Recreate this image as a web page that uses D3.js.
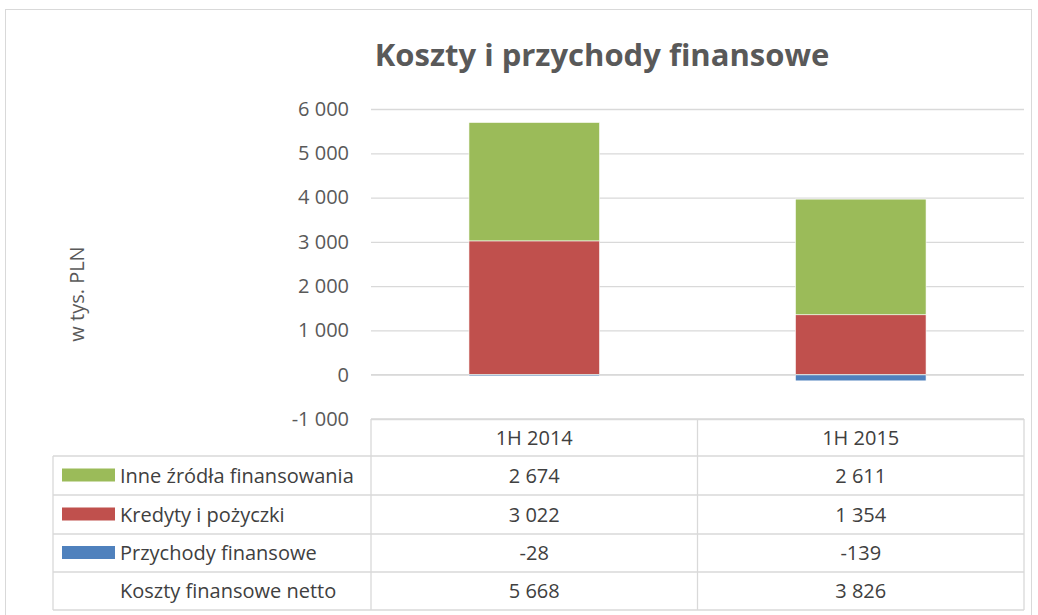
<!DOCTYPE html>
<html>
<head>
<meta charset="utf-8">
<script src="https://cdn.jsdelivr.net/npm/d3@7"></script>
<style>
  body { margin: 0; background: #fff; }
  text { font-family: "Open Sans", sans-serif; }
</style>
</head>
<body>
<div id="chart"></div>
<script>
let width = 1038,
    height = 615,
    margin = ({ top: 109, right: 14, bottom: 196, left: 371 });

// data
const categories = ["1H 2014", "1H 2015"];
const seriesNames = ["Inne źródła finansowania", "Kredyty i pożyczki", "Przychody finansowe"];
const inne = [2674, 2611];
const kredyty = [3022, 1354];
const przychody = [-28, -139];
const netto = [5668, 3826];
const netLabel = "Koszty finansowe netto";
const yTicks = [-1000, 0, 1000, 2000, 3000, 4000, 5000, 6000];

const colors = ["#9BBB59", "#C0504D", "#4F81BD"];

const locale = d3.formatLocale({ decimal: ",", thousands: " ", grouping: [3], currency: ["", ""], minus: "-" });
const fmt = locale.format(",d");

const svg = d3.select("#chart")
  .append("svg")
  .attr("width", width)
  .attr("height", height);

// outer frame
svg.append("rect")
  .attr("x", 5.5).attr("y", 9.5)
  .attr("width", 1026).attr("height", 620)
  .attr("fill", "none")
  .attr("stroke", "#d9d9d9");

svg.append("text")
  .attr("x", 602)
  .attr("y", 66)
  .attr("text-anchor", "middle")
  .attr("font-size", 31)
  .attr("font-weight", "bold")
  .attr("fill", "#595959")
  .text("Koszty i przychody finansowe");

let x = d3.scaleBand()
  .domain(categories)
  .range([margin.left, width - margin.right])
  .paddingInner(0.6)
  .paddingOuter(0.3);

let y = d3.scaleLinear()
  .domain([-1000, 6000])
  .range([height - margin.bottom, margin.top]);

// gridlines
svg.append("g")
  .attr("transform", `translate(${margin.left},0)`)
  .attr("class", "y-axis")
  .call(d3.axisLeft(y).tickValues(yTicks).tickFormat(fmt)
    .tickSize(-(width - margin.left - margin.right)).tickPadding(22))
  .call(g => g.select(".domain").remove())
  .call(g => g.selectAll(".tick line").attr("stroke", "#d9d9d9").attr("stroke-width", 1.3))
  .call(g => g.selectAll(".tick text").attr("fill", "#595959").attr("font-size", 20));

// stacked bars
const rows = categories.map((c, i) => ({ cat: c, s0: inne[i], s1: kredyty[i], s2: przychody[i] }));
const stack = d3.stack()
  .keys(["s1", "s0", "s2"])
  .offset(d3.stackOffsetDiverging);
const layers = stack(rows);
const colorByKey = { s0: colors[0], s1: colors[1], s2: colors[2] };

svg.append("g")
  .selectAll("g")
  .data(layers)
  .join("g")
  .attr("fill", d => colorByKey[d.key])
  .selectAll("rect")
  .data(d => d)
  .join("rect")
  .attr("x", d => x(d.data.cat))
  .attr("width", x.bandwidth())
  .attr("y", d => y(d[1]))
  .attr("height", d => y(d[0]) - y(d[1]))
  .attr("stroke", "#fff")
  .attr("stroke-width", 0.6);

// zero line on top
svg.append("line")
  .attr("x1", margin.left).attr("x2", width - margin.right)
  .attr("y1", y(0)).attr("y2", y(0))
  .attr("stroke", "#d9d9d9").attr("stroke-width", 1.3);

// y label
svg.append("text")
  .attr("transform", "translate(77,294) rotate(-90)")
  .attr("text-anchor", "middle")
  .attr("dy", "0.35em")
  .attr("font-size", 20)
  .attr("fill", "#595959")
  .text("w tys. PLN");

// data table
const tTop = y(-1000);
const rowY = [tTop, 456, 495, 534, 572, 610];
const tLeft = 53, tRight = width - margin.right;
const gridC = "#d9d9d9";
const tbl = svg.append("g").attr("class", "table");

// horizontal lines
rowY.forEach((ry, i) => {
  tbl.append("line")
    .attr("x1", i === 0 ? margin.left : tLeft).attr("x2", tRight)
    .attr("y1", ry).attr("y2", ry)
    .attr("stroke", gridC).attr("stroke-width", 1.3);
});
// vertical lines
const colEdges = [margin.left, ...categories.slice(1).map(c => x(c) - x.step() * x.paddingInner() / 2), tRight];
tbl.append("line").attr("x1", tLeft).attr("x2", tLeft).attr("y1", rowY[1]).attr("y2", rowY[5])
  .attr("stroke", gridC).attr("stroke-width", 1.3);
colEdges.forEach(cx => {
  tbl.append("line").attr("x1", cx).attr("x2", cx).attr("y1", tTop).attr("y2", rowY[5])
    .attr("stroke", gridC).attr("stroke-width", 1.3);
});

// header
categories.forEach(c => {
  tbl.append("text")
    .attr("x", x(c) + x.bandwidth() / 2)
    .attr("y", (rowY[0] + rowY[1]) / 2)
    .attr("dy", "0.35em")
    .attr("text-anchor", "middle")
    .attr("font-size", 20)
    .attr("fill", "#404040")
    .text(c);
});

const tableRows = [
  { name: seriesNames[0], color: colors[0], vals: inne },
  { name: seriesNames[1], color: colors[1], vals: kredyty },
  { name: seriesNames[2], color: colors[2], vals: przychody },
  { name: netLabel, color: null, vals: netto }
];

tableRows.forEach((r, i) => {
  const cy = (rowY[i + 1] + rowY[i + 2]) / 2;
  if (r.color) {
    tbl.append("rect")
      .attr("x", 62).attr("y", cy - 7)
      .attr("width", 53).attr("height", 13)
      .attr("fill", r.color);
  }
  tbl.append("text")
    .attr("x", 120).attr("y", cy).attr("dy", "0.35em")
    .attr("font-size", 20).attr("fill", "#404040")
    .text(r.name);
  r.vals.forEach((v, j) => {
    tbl.append("text")
      .attr("x", x(categories[j]) + x.bandwidth() / 2)
      .attr("y", cy).attr("dy", "0.35em")
      .attr("text-anchor", "middle")
      .attr("font-size", 20).attr("fill", "#404040")
      .text(fmt(v));
  });
});
</script>
</body>
</html>
